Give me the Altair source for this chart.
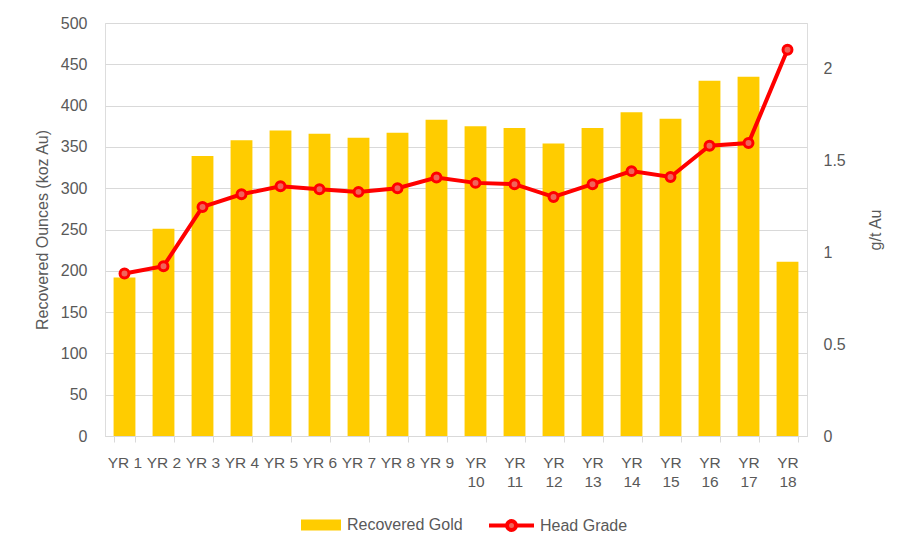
import altair as alt
import pandas as pd

years = ["YR 1", "YR 2", "YR 3", "YR 4", "YR 5", "YR 6", "YR 7", "YR 8", "YR 9",
         "YR 10", "YR 11", "YR 12", "YR 13", "YR 14", "YR 15", "YR 16", "YR 17", "YR 18"]
recovered_gold = [192, 251, 339, 358, 370, 366, 361, 367, 383, 375, 373, 354, 373, 392, 384, 430, 435, 211]
head_grade = [0.885, 0.925, 1.248, 1.317, 1.361, 1.344, 1.330, 1.350, 1.408, 1.379,
              1.372, 1.302, 1.372, 1.443, 1.411, 1.581, 1.596, 2.104]
left_ticks = [0, 50, 100, 150, 200, 250, 300, 350, 400, 450, 500]
right_ticks = [0, 0.5, 1, 1.5, 2]

df = pd.DataFrame({
    "year": years,
    "gold": recovered_gold,
    "grade": head_grade,
    "s1": ["Recovered Gold"] * len(years),
    "s2": ["Head Grade"] * len(years),
})

FONT = "Liberation Sans"
TXT = "#595959"
GRID = "#D9D9D9"

x_enc = alt.X(
    "year:N", sort=years, title=None,
    scale=alt.Scale(paddingInner=0.44, paddingOuter=0.22),
    axis=alt.Axis(
        labelAngle=0, labelFontSize=15.5, labelColor=TXT, labelFont=FONT,
        labelExpr="length(datum.label) > 4 ? split(datum.label, ' ') : datum.label",
        labelLineHeight=19, labelPadding=13,
        tickBand="extent", tickColor=GRID, tickSize=6, domainColor=GRID,
        grid=False,
    ),
)

bars = alt.Chart(df).mark_bar().encode(
    x=x_enc,
    y=alt.Y("gold:Q", title="Recovered Ounces (koz Au)",
            scale=alt.Scale(domain=[0, 500], nice=False),
            axis=alt.Axis(values=left_ticks, grid=True, gridColor=GRID, domain=False, ticks=False,
                          labelFontSize=16, labelColor=TXT, labelFont=FONT, labelPadding=18,
                          titleFontSize=16, titleColor=TXT, titleFont=FONT, titleFontWeight="normal",
                          titlePadding=10)),
    fill=alt.Fill("s1:N", scale=alt.Scale(domain=["Recovered Gold"], range=["#FFCC00"]),
                  legend=alt.Legend(title=None, orient="none", legendX=195, legendY=481,
                                    symbolType="M-1,-0.275H1V0.275H-1Z", symbolSize=1600,
                                    labelFontSize=16, labelColor=TXT, labelFont=FONT, labelOffset=5)),
)

right_axis = alt.Axis(values=right_ticks, orient="right", grid=False, domain=False, ticks=False,
                      format="~g", labelFontSize=16, labelColor=TXT, labelFont=FONT, labelPadding=16,
                      titleFontSize=16, titleColor=TXT, titleFont=FONT, titleFontWeight="normal",
                      titleAngle=270, titlePadding=38)

line = alt.Chart(df).mark_line(strokeWidth=4).encode(
    x=x_enc,
    y=alt.Y("grade:Q", title="g/t Au", scale=alt.Scale(domain=[0, 2.25], nice=False), axis=right_axis),
    stroke=alt.Stroke("s2:N", scale=alt.Scale(domain=["Head Grade"], range=["#FF0000"]),
                      legend=alt.Legend(title=None, orient="none", legendX=382, legendY=478,
                                        symbolType="M-1,0H-0.2M0.2,0H1M0.2,0A0.2,0.2 0 1,1 -0.2,0A0.2,0.2 0 1,1 0.2,0Z",
                                        symbolSize=2025, symbolStrokeWidth=4, symbolFillColor="#F0645A",
                                        labelFontSize=16, labelColor=TXT, labelFont=FONT, labelOffset=4)),
)

points = alt.Chart(df).mark_point(filled=True, fill="#F0645A", stroke="#FF0000", strokeWidth=3,
                                  size=80, opacity=1).encode(
    x=x_enc,
    y=alt.Y("grade:Q", scale=alt.Scale(domain=[0, 2.25], nice=False), axis=right_axis, title="g/t Au"),
)

right = alt.layer(line, points)

chart = alt.layer(bars, right).resolve_scale(y="independent", fill="independent", stroke="independent").properties(
    width=702, height=413,
    autosize=alt.AutoSizeParams(type="none"),
    padding={"left": 97, "top": 15, "right": 101, "bottom": 112},
).configure_view(stroke=None).configure(background="white")

chart.save("out.html", embed_options={"renderer": "svg", "actions": False})
